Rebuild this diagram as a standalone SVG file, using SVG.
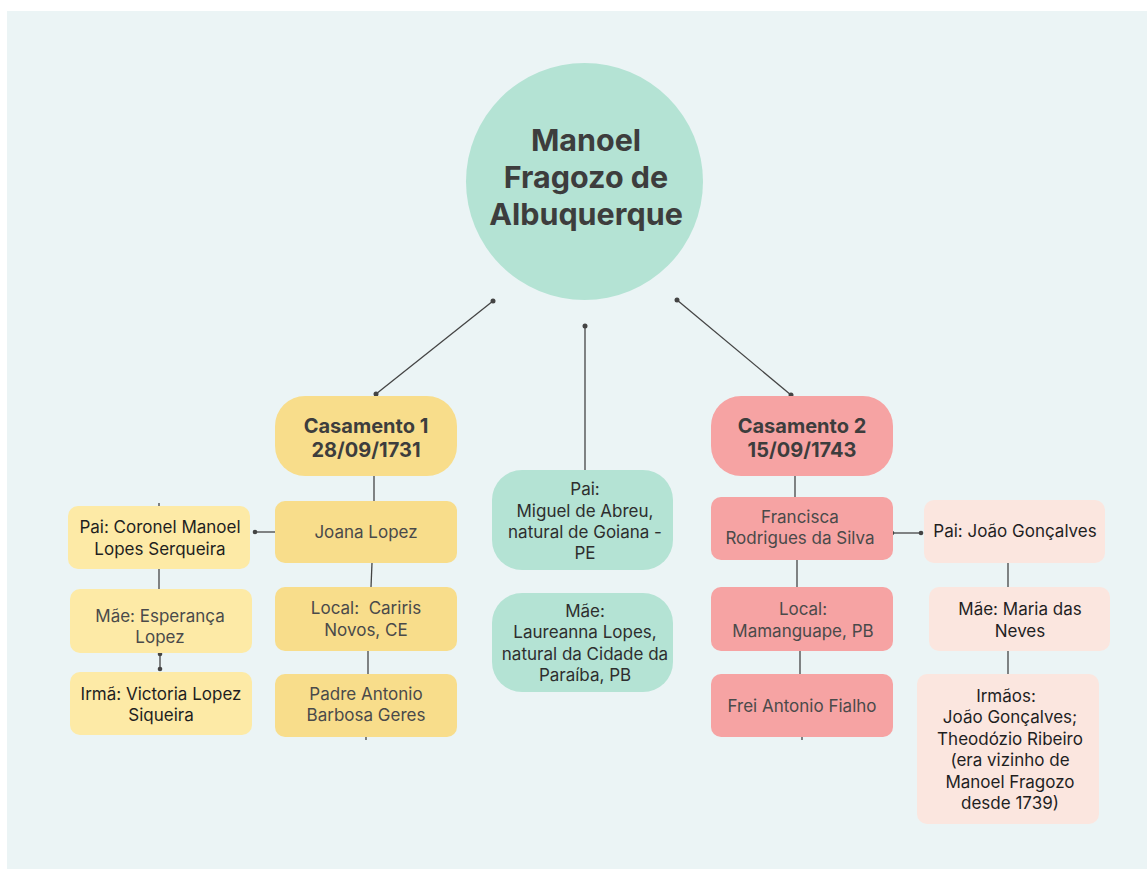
<svg xmlns="http://www.w3.org/2000/svg" width="1147" height="869" viewBox="0 0 1147 869">
<defs>
<style>
text{font-family:Inter,"Liberation Sans",sans-serif;text-anchor:middle}
.t{font-size:17px;fill:#4a4a4a}
.d{font-size:17px;fill:#1f1f1f}
.m{font-size:17px;fill:#2e2e2e}
.title{font-size:30.5px;font-weight:700;fill:#3d3d3d}
.cas{font-size:20px;font-weight:700;fill:#3d3d3d}
.ln{stroke:#444;stroke-width:1.3;fill:none}
.dot{fill:#444}
.y1{fill:#f8dd8b}.y2{fill:#fdeaa6}.p1{fill:#f6a3a3}.p2{fill:#fbe6df}.g{fill:#b4e3d4}
</style>
</defs>
<rect x="0" y="0" width="1147" height="869" fill="#ffffff"/>
<rect x="7" y="11" width="1140" height="858" fill="#ebf4f5"/>

<g id="connectors">
<line class="ln" x1="493" y1="301" x2="376" y2="394"/>
<circle class="dot" cx="493" cy="301" r="2.5"/><circle class="dot" cx="376" cy="394" r="2.5"/>
<line class="ln" x1="585" y1="326" x2="585" y2="470"/>
<circle class="dot" cx="585" cy="326" r="2.5"/>
<line class="ln" x1="677" y1="300" x2="791" y2="395"/>
<circle class="dot" cx="677" cy="300" r="2.5"/><circle class="dot" cx="791" cy="395" r="2.5"/>
<line class="ln" x1="374" y1="476" x2="374" y2="501"/>
<line class="ln" x1="372" y1="563" x2="371" y2="587"/>
<line class="ln" x1="368" y1="651" x2="368" y2="674"/>
<line class="ln" x1="366" y1="737" x2="366" y2="740"/>
<line class="ln" x1="255" y1="532" x2="285" y2="532"/>
<circle class="dot" cx="255" cy="532" r="2.3"/><circle class="dot" cx="285" cy="532" r="2.3"/>
<line class="ln" x1="159" y1="503" x2="159" y2="506"/>
<line class="ln" x1="159" y1="569" x2="159" y2="589"/>
<line class="ln" x1="160" y1="654" x2="160" y2="669"/>
<circle class="dot" cx="160" cy="654" r="2.3"/><circle class="dot" cx="160" cy="669" r="2.3"/>
<line class="ln" x1="795" y1="476" x2="795" y2="497"/>
<line class="ln" x1="797" y1="560" x2="797" y2="587"/>
<line class="ln" x1="800" y1="651" x2="800" y2="674"/>
<line class="ln" x1="802" y1="737" x2="802" y2="740"/>
<line class="ln" x1="892" y1="533" x2="921" y2="533"/>
<circle class="dot" cx="892" cy="533" r="2.3"/><circle class="dot" cx="921" cy="533" r="2.3"/>
<line class="ln" x1="1008" y1="563" x2="1008" y2="587"/>
<line class="ln" x1="1008" y1="651" x2="1008" y2="674"/>
</g>

<g id="root">
<circle class="g" cx="584.5" cy="181.5" r="118.5"/>
<text class="title" x="586" y="151">Manoel</text>
<text class="title" x="586" y="188">Fragozo de</text>
<text class="title" x="586" y="225">Albuquerque</text>
</g>

<g id="casamento1">
<rect class="y1" x="275" y="396" width="182" height="80" rx="30"/>
<text class="cas" x="366" y="433">Casamento 1</text>
<text class="cas" x="366" y="457">28/09/1731</text>
</g>
<g id="casamento2">
<rect class="p1" x="711" y="396" width="182" height="80" rx="30"/>
<text class="cas" x="802" y="433">Casamento 2</text>
<text class="cas" x="802" y="457">15/09/1743</text>
</g>

<g id="joana">
<rect class="y1" x="275" y="501" width="182" height="62" rx="10"/>
<text class="t" x="366" y="538">Joana Lopez</text>
</g>
<g id="local1">
<rect class="y1" x="275" y="587" width="182" height="64" rx="10"/>
<text class="t" x="366" y="614" xml:space="preserve">Local:  Cariris</text>
<text class="t" x="366" y="636">Novos, CE</text>
</g>
<g id="padre">
<rect class="y1" x="275" y="674" width="182" height="63" rx="10"/>
<text class="t" x="366" y="700">Padre Antonio</text>
<text class="t" x="366" y="721">Barbosa Geres</text>
</g>
<g id="pai-coronel">
<rect class="y2" x="68" y="506" width="182" height="63" rx="10"/>
<text class="d" x="160" y="533">Pai: Coronel Manoel</text>
<text class="d" x="160" y="555">Lopes Serqueira</text>
</g>
<g id="mae-esperanca">
<rect class="y2" x="70" y="589" width="182" height="64" rx="10"/>
<text class="t" x="160" y="622">Mãe: Esperança</text>
<text class="t" x="160" y="643">Lopez</text>
</g>
<g id="irma-victoria">
<rect class="y2" x="70" y="672" width="182" height="63" rx="10"/>
<text class="d" x="161" y="700">Irmã: Victoria Lopez</text>
<text class="d" x="161" y="721">Siqueira</text>
</g>

<g id="pai-miguel">
<rect class="g" x="492" y="470" width="181" height="100" rx="30"/>
<text class="m" x="585" y="495">Pai:</text>
<text class="m" x="585" y="517">Miguel de Abreu,</text>
<text class="m" x="585" y="538">natural de Goiana -</text>
<text class="m" x="585" y="559">PE</text>
</g>
<g id="mae-laureanna">
<rect class="g" x="492" y="593" width="181" height="99" rx="30"/>
<text class="m" x="585" y="617">Mãe:</text>
<text class="m" x="585" y="638">Laureanna Lopes,</text>
<text class="m" x="585" y="660">natural da Cidade da</text>
<text class="m" x="585" y="681">Paraíba, PB</text>
</g>

<g id="francisca">
<rect class="p1" x="711" y="497" width="182" height="63" rx="10"/>
<text class="t" x="800" y="523">Francisca</text>
<text class="t" x="800" y="544">Rodrigues da Silva</text>
</g>
<g id="local2">
<rect class="p1" x="711" y="587" width="182" height="64" rx="10"/>
<text class="t" x="803" y="615">Local:</text>
<text class="t" x="803" y="637">Mamanguape, PB</text>
</g>
<g id="frei">
<rect class="p1" x="711" y="674" width="182" height="63" rx="10"/>
<text class="t" x="802" y="712">Frei Antonio Fialho</text>
</g>
<g id="pai-joao">
<rect class="p2" x="924" y="500" width="181" height="63" rx="10"/>
<text class="d" x="1015" y="537">Pai: João Gonçalves</text>
</g>
<g id="mae-maria">
<rect class="p2" x="929" y="587" width="181" height="64" rx="10"/>
<text class="d" x="1020" y="615">Mãe: Maria das</text>
<text class="d" x="1020" y="637">Neves</text>
</g>
<g id="irmaos">
<rect class="p2" x="917" y="674" width="182" height="150" rx="10"/>
<text class="d" x="1006" y="702">Irmãos:</text>
<text class="d" x="1010" y="723">João Gonçalves;</text>
<text class="d" x="1010" y="745">Theodózio Ribeiro</text>
<text class="d" x="1010" y="766">(era vizinho de</text>
<text class="d" x="1010" y="788">Manoel Fragozo</text>
<text class="d" x="1010" y="809">desde 1739)</text>
</g>
</svg>
